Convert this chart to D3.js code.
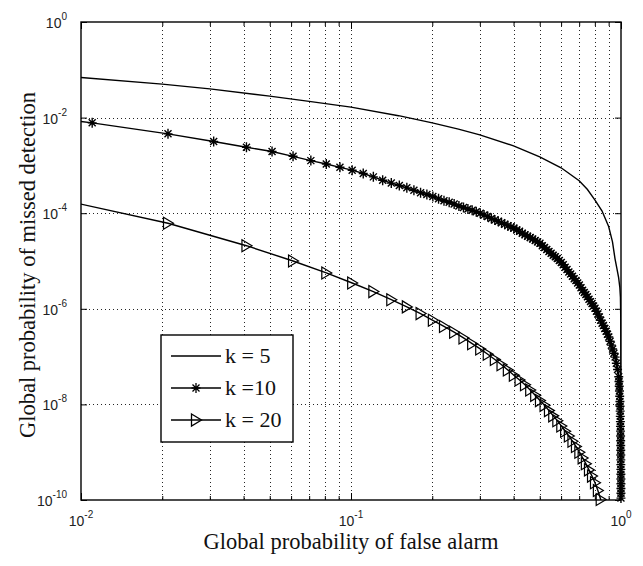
<!DOCTYPE html>
<html>
<head>
<meta charset="utf-8">
<script src="https://cdn.jsdelivr.net/npm/d3@7"></script>
<style>
  body { margin: 0; background: #fff; }
</style>
</head>
<body>
<div id="chart"></div>
<script>
// tick labels (powers of ten)
const xTickExps = [-2, -1, 0];
const yTickExps = [0, -2, -4, -6, -8, -10];

// k = 5 : probability of false alarm / log10 of probability of missed detection
const k5Pfa = [0.01, 0.02, 0.03, 0.05, 0.07, 0.1, 0.15, 0.2, 0.25, 0.3, 0.4, 0.5, 0.6, 0.7, 0.75, 0.8,
  0.85, 0.9, 0.93, 0.95, 0.965, 0.98, 0.99, 0.995, 0.998, 0.999, 0.9995, 0.9999];
const k5PmdExp = [-1.16, -1.30, -1.40, -1.55, -1.66, -1.78, -1.96, -2.11, -2.24, -2.36, -2.59, -2.82, -3.05, -3.32, -3.50, -3.72,
  -3.95, -4.28, -4.60, -4.95, -5.15, -5.35, -5.55, -5.75, -6.2, -7.0, -8.5, -11];

// k = 10
const k10Pfa = [0.001, 0.011, 0.021, 0.031, 0.041, 0.051, 0.061, 0.071, 0.081, 0.091,
  0.101, 0.111, 0.121, 0.131, 0.141, 0.151, 0.161, 0.171, 0.181, 0.191,
  0.201, 0.211, 0.221, 0.231, 0.241, 0.251, 0.261, 0.271, 0.281, 0.291,
  0.301, 0.311, 0.321, 0.331, 0.341, 0.351, 0.361, 0.371, 0.381, 0.391,
  0.401, 0.411, 0.421, 0.431, 0.441, 0.451, 0.461, 0.471, 0.481, 0.491,
  0.501, 0.511, 0.521, 0.531, 0.541, 0.551, 0.561, 0.571, 0.581, 0.591,
  0.601, 0.611, 0.621, 0.631, 0.641, 0.651, 0.661, 0.671, 0.681, 0.691,
  0.701, 0.711, 0.721, 0.731, 0.741, 0.751, 0.761, 0.771, 0.781, 0.791,
  0.801, 0.811, 0.821, 0.831, 0.841, 0.851, 0.861, 0.871, 0.881, 0.891,
  0.901, 0.911, 0.921, 0.931, 0.941, 0.951, 0.961, 0.971, 0.981,
  0.983, 0.985, 0.987, 0.989, 0.991, 0.992, 0.993, 0.994, 0.995, 0.9955,
  0.996, 0.9965, 0.997, 0.9974, 0.9978, 0.998, 0.9983, 0.9986, 0.9988, 0.999,
  0.9992, 0.9994, 0.9995, 0.9996, 0.9997, 0.9998];
const k10PmdExp = [-1.40, -2.11, -2.34, -2.50, -2.62, -2.71, -2.81, -2.90, -2.97, -3.04,
  -3.10, -3.17, -3.24, -3.31, -3.37, -3.42, -3.47, -3.52, -3.57, -3.61,
  -3.65, -3.70, -3.74, -3.77, -3.81, -3.85, -3.88, -3.91, -3.94, -3.97,
  -4.00, -4.04, -4.07, -4.11, -4.14, -4.17, -4.20, -4.23, -4.26, -4.29,
  -4.31, -4.35, -4.38, -4.42, -4.45, -4.48, -4.51, -4.54, -4.57, -4.60,
  -4.63, -4.68, -4.72, -4.76, -4.80, -4.84, -4.88, -4.91, -4.95, -4.99,
  -5.03, -5.08, -5.13, -5.18, -5.23, -5.27, -5.32, -5.37, -5.41, -5.46,
  -5.50, -5.56, -5.61, -5.66, -5.70, -5.75, -5.80, -5.85, -5.89, -5.94,
  -5.99, -6.05, -6.11, -6.17, -6.24, -6.30, -6.35, -6.41, -6.47, -6.53,
  -6.59, -6.68, -6.76, -6.84, -6.93, -7.01, -7.14, -7.27, -7.42,
  -7.52, -7.62, -7.72, -7.83, -7.94, -8.04, -8.14, -8.25, -8.36, -8.46,
  -8.56, -8.66, -8.76, -8.86, -8.96, -9.06, -9.16, -9.26, -9.36, -9.46,
  -9.56, -9.66, -9.76, -9.86, -9.96, -10.06];

// k = 20
const k20Pfa = [0.001, 0.021, 0.041, 0.061, 0.081, 0.101, 0.121, 0.141, 0.161, 0.181,
  0.201, 0.221, 0.241, 0.261, 0.281, 0.301, 0.321, 0.341, 0.361, 0.381,
  0.401, 0.421, 0.441, 0.461, 0.481, 0.501, 0.521, 0.541, 0.561, 0.581,
  0.601, 0.621, 0.641, 0.661, 0.681, 0.701, 0.721, 0.741, 0.761, 0.781,
  0.801, 0.821, 0.841, 0.861];
const k20PmdExp = [-2.57, -4.21, -4.68, -5.00, -5.25, -5.46, -5.64, -5.81, -5.96, -6.10,
  -6.24, -6.37, -6.49, -6.61, -6.73, -6.84, -6.95, -7.06, -7.17, -7.28,
  -7.39, -7.49, -7.59, -7.70, -7.81, -7.92, -8.02, -8.13, -8.24, -8.34,
  -8.45, -8.56, -8.66, -8.77, -8.88, -9.00, -9.12, -9.24, -9.37, -9.50,
  -9.64, -9.80, -9.99, -10.25];

const legendLabels = ["k = 5", "k =10", "k = 20"];

function toPoints(pfa, exps) {
  return pfa.map((p, i) => ({ x: p, y: Math.pow(10, exps[i]) }));
}

const series = [
  { name: legendLabels[0], data: toPoints(k5Pfa, k5PmdExp), marker: null },
  { name: legendLabels[1], data: toPoints(k10Pfa, k10PmdExp), marker: "star" },
  { name: legendLabels[2], data: toPoints(k20Pfa, k20PmdExp), marker: "tri" }
];

const markerPath = {
  star: "M-4.5,0H4.5M0,-5V5M-3.5,-3.5L3.5,3.5M-3.5,3.5L3.5,-3.5",
  tri: "M-4.5,-6L5.5,0L-4.5,6Z"
};

const svg = d3
  .select("#chart")
  .append("svg")
  .attr("width", 643)
  .attr("height", 566)
  .style("background", "#fff");

const margin = { top: 22, right: 22, bottom: 66, left: 81 };
const width = +svg.attr("width") - margin.left - margin.right;
const height = +svg.attr("height") - margin.top - margin.bottom;

const chart = svg.append("g").attr("transform", `translate(${margin.left},${margin.top})`);

const xScale = d3.scaleLog().domain([0.01, 1]).range([0, width]);
const yScale = d3.scaleLog().domain([1e-10, 1]).range([height, 0]);

const xAll = xScale.ticks();
const xMajor = xTickExps.map(e => Math.pow(10, e));
const xMinor = xAll.filter(v => !xMajor.some(m => Math.abs(m - v) / m < 1e-6));
const yMajor = yTickExps.map(e => Math.pow(10, e));

// dotted grid
const grid = chart.append("g")
  .attr("stroke", "#000")
  .attr("stroke-width", 1)
  .attr("stroke-dasharray", "1,3")
  .attr("opacity", 0.85);
grid.selectAll("line.vx")
  .data(xAll.filter(v => v > 0.0100001 && v < 0.99999))
  .join("line")
  .attr("x1", d => Math.round(xScale(d)) + 0.5)
  .attr("x2", d => Math.round(xScale(d)) + 0.5)
  .attr("y1", 0)
  .attr("y2", height);
grid.selectAll("line.hy")
  .data(yMajor.filter(v => v > 1.1e-10 && v < 0.9))
  .join("line")
  .attr("x1", 0)
  .attr("x2", width)
  .attr("y1", d => Math.round(yScale(d)) + 0.5)
  .attr("y2", d => Math.round(yScale(d)) + 0.5);

// axes, ticks pointing inward
function styleAxis(g) {
  g.select(".domain").remove();
  g.selectAll(".tick line").attr("stroke", "#000");
}
chart.append("g").attr("transform", `translate(0,${height})`)
  .call(d3.axisBottom(xScale).tickValues(xMinor).tickSize(-4).tickFormat("")).call(styleAxis);
chart.append("g").attr("transform", `translate(0,${height})`)
  .call(d3.axisBottom(xScale).tickValues(xMajor).tickSize(-7).tickFormat("")).call(styleAxis);
chart.append("g")
  .call(d3.axisTop(xScale).tickValues(xMinor).tickSize(-4).tickFormat("")).call(styleAxis);
chart.append("g")
  .call(d3.axisTop(xScale).tickValues(xMajor).tickSize(-7).tickFormat("")).call(styleAxis);
chart.append("g")
  .call(d3.axisLeft(yScale).tickValues(yMajor).tickSize(-6).tickFormat("")).call(styleAxis);
chart.append("g").attr("transform", `translate(${width},0)`)
  .call(d3.axisRight(yScale).tickValues(yMajor).tickSize(-6).tickFormat("")).call(styleAxis);

// tick labels 10^n
const tickFont = "'Liberation Sans', Arial, sans-serif";
function powerLabel(sel, e) {
  sel.append("tspan").attr("font-size", 14).text("10");
  sel.append("tspan").attr("font-size", 10).attr("dy", -8).text(e);
}
xTickExps.forEach(e => {
  chart.append("text")
    .attr("x", xScale(Math.pow(10, e)))
    .attr("y", height + 26)
    .attr("text-anchor", "middle")
    .attr("font-family", tickFont)
    .attr("fill", "#222")
    .call(powerLabel, e);
});
yTickExps.forEach(e => {
  chart.append("text")
    .attr("x", -14)
    .attr("y", yScale(Math.pow(10, e)) + 6)
    .attr("text-anchor", "end")
    .attr("font-family", tickFont)
    .attr("fill", "#222")
    .call(powerLabel, e);
});

// curves
chart.append("clipPath").attr("id", "plotClip")
  .append("rect").attr("width", width).attr("height", height);

const line = d3.line()
  .x(d => xScale(d.x))
  .y(d => yScale(d.y));

const plot = chart.append("g");
series.forEach(s => {
  plot.append("path")
    .datum(s.data)
    .attr("clip-path", "url(#plotClip)")
    .attr("fill", "none")
    .attr("stroke", "#000")
    .attr("stroke-width", 1.4)
    .attr("d", line);
  if (s.marker) {
    plot.append("g").selectAll("path")
      .data(s.data.filter(d => d.x >= 0.01 && d.x <= 1 && d.y >= 1e-10 && d.y <= 1))
      .join("path")
      .attr("transform", d => `translate(${xScale(d.x)},${yScale(d.y)})`)
      .attr("d", markerPath[s.marker])
      .attr("fill", "none")
      .attr("stroke", "#000")
      .attr("stroke-width", s.marker === "star" ? 1.4 : 1.2);
  }
});

// frame
chart.append("rect")
  .attr("width", width)
  .attr("height", height)
  .attr("fill", "none")
  .attr("stroke", "#000")
  .attr("stroke-width", 1.4);

// axis titles
const titleFont = "'Liberation Serif', 'Times New Roman', serif";
chart.append("text")
  .attr("x", width / 2)
  .attr("y", height + 49)
  .attr("text-anchor", "middle")
  .attr("font-family", titleFont)
  .attr("font-size", 22.5)
  .attr("fill", "#111")
  .text("Global probability of false alarm");
chart.append("text")
  .attr("transform", `translate(-46,${height / 2 + 4}) rotate(-90)`)
  .attr("text-anchor", "middle")
  .attr("font-family", titleFont)
  .attr("font-size", 22.5)
  .attr("fill", "#111")
  .text("Global probability of missed detection");

// legend
const legend = chart.append("g").attr("transform", "translate(80,313)");
legend.append("rect")
  .attr("width", 132)
  .attr("height", 107)
  .attr("fill", "#fff")
  .attr("stroke", "#000")
  .attr("stroke-width", 1.4);
series.forEach((s, i) => {
  const row = legend.append("g").attr("transform", `translate(0,${21 + i * 32})`);
  row.append("line")
    .attr("x1", 10).attr("x2", 60)
    .attr("stroke", "#000").attr("stroke-width", 1.4);
  if (s.marker) {
    row.append("path")
      .attr("transform", "translate(35,0)")
      .attr("d", markerPath[s.marker])
      .attr("fill", "none")
      .attr("stroke", "#000")
      .attr("stroke-width", 1.3);
  }
  row.append("text")
    .attr("x", 64)
    .attr("y", 7)
    .attr("font-family", titleFont)
    .attr("font-size", 22)
    .attr("fill", "#111")
    .text(s.name);
});
</script>
</body>
</html>
